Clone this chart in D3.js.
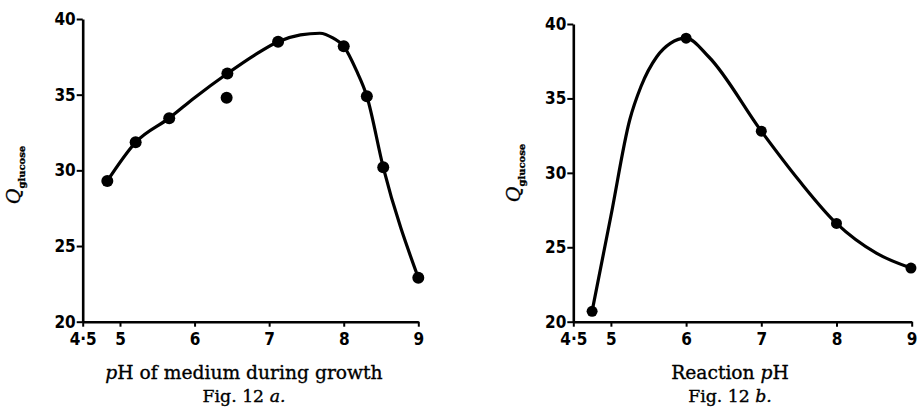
<!DOCTYPE html>
<html>
<head>
<meta charset="utf-8">
<script src="https://cdn.jsdelivr.net/npm/d3@7"></script>
<style>
  body { margin: 0; background: #fff; }
  .tick text { font-family: "DejaVu Sans Condensed", "DejaVu Sans", sans-serif; font-weight: bold; }
  .title { font-family: "DejaVu Serif", serif; stroke: #000; stroke-width: 0.35; }
</style>
</head>
<body>
<div id="chart"></div>
<script>
// tick labels shared by both panels
var xTicks = [4.5, 5, 6, 7, 8, 9];
var yTicks = [20, 25, 30, 35, 40];

// Fig. 12a - pH of medium during growth
var phGrowth = [4.83, 5.21, 5.66, 6.44, 6.43, 7.12, 8.0, 8.31, 8.53, 9.0];
var qGrowth  = [29.3, 31.85, 33.45, 36.4, 34.8, 38.5, 38.2, 34.9, 30.2, 22.9];
// hand drawn curve through the points (knots)
var curveGrowthPh = [4.83, 5.21, 5.66, 6.0, 6.44, 6.8, 7.12, 7.42, 7.68, 7.86, 8.0, 8.17, 8.31, 8.53, 9.0];
var curveGrowthQ  = [29.3, 31.85, 33.45, 34.8, 36.4, 37.6, 38.5, 38.95, 39.06, 38.73, 38.2, 36.6, 34.9, 30.2, 22.9];

// Fig. 12b - reaction pH
var phReaction = [4.75, 6.0, 7.0, 8.0, 8.99];
var qReaction  = [20.7, 39.05, 32.8, 26.6, 23.6];
var curveReactionPh = [4.75, 5.0, 5.25, 5.4, 5.61, 5.79, 6.0, 6.3, 7.0, 7.5, 8.0, 8.53, 8.99];
var curveReactionQ  = [20.7, 27.1, 33.55, 35.8, 37.8, 38.7, 39.05, 37.8, 32.8, 29.5, 26.6, 24.6, 23.6];

var svg = d3.select("#chart")
  .append("svg")
    .attr("width", 918)
    .attr("height", 408);

function zip(a, b) {
  return a.map(function(d, i) { return [d, b[i]]; });
}

function panel(opts) {
  var x = d3.scaleLinear().domain([4.5, 9]).range([opts.left, opts.right]);
  var y = d3.scaleLinear().domain([20, 40]).range([opts.bottom, opts.top]);

  // X axis
  var gx = svg.append("g")
    .attr("transform", "translate(0," + opts.bottom + ")")
    .call(d3.axisBottom(x)
      .tickValues(xTicks)
      .tickSize(5)
      .tickPadding(6)
      .tickSizeOuter(0)
      .tickFormat(function(d) { return d === 4.5 ? "4\u00b75" : d; }));
  gx.select(".domain").attr("stroke-width", 2.6);
  gx.selectAll(".tick line").attr("stroke-width", 2);
  gx.selectAll("text").attr("font-size", 17).attr("fill", "#000");

  // Y axis
  var gy = svg.append("g")
    .attr("transform", "translate(" + opts.left + ",0)")
    .call(d3.axisLeft(y)
      .tickValues(yTicks)
      .tickSize(6)
      .tickPadding(1)
      .tickSizeOuter(0));
  gy.select(".domain").attr("stroke-width", 2.6);
  gy.selectAll(".tick line").attr("stroke-width", 2);
  gy.selectAll("text").attr("font-size", 17).attr("fill", "#000");

  // the curve
  svg.append("path")
    .datum(zip(opts.curvePh, opts.curveQ))
    .attr("fill", "none")
    .attr("stroke", "#000")
    .attr("stroke-width", 3.2)
    .attr("stroke-linejoin", "round")
    .attr("d", d3.line()
      .x(function(d) { return x(d[0]); })
      .y(function(d) { return y(d[1]); })
      .curve(d3.curveMonotoneX));

  // the points
  svg.selectAll(null)
    .data(zip(opts.ph, opts.q))
    .enter()
    .append("circle")
      .attr("cx", function(d) { return x(d[0]); })
      .attr("cy", function(d) { return y(d[1]); })
      .attr("r", opts.r)
      .attr("fill", "#000");

  // y label: Q glucose
  var ql = svg.append("text")
    .attr("class", "title")
    .attr("transform", "translate(" + opts.qx + "," + opts.qy + ")rotate(-90)")
    .attr("text-anchor", "middle")
    .attr("fill", "#000");
  ql.append("tspan").attr("font-style", "italic").attr("font-size", 19).text("Q");
  ql.append("tspan").attr("font-size", 10).attr("font-weight", "bold").attr("dy", 5).text("glucose");

  // x label and caption
  var xl = svg.append("text")
    .attr("class", "title")
    .attr("x", opts.labelX)
    .attr("y", 379)
    .attr("text-anchor", "middle")
    .attr("font-size", 18.7)
    .attr("fill", "#000");
  opts.xLabel.forEach(function(p) {
    xl.append("tspan").attr("font-style", p[1] ? "italic" : "normal").text(p[0]);
  });

  var cap = svg.append("text")
    .attr("class", "title")
    .attr("x", opts.labelX)
    .attr("y", 402)
    .attr("text-anchor", "middle")
    .attr("font-size", 17.3)
    .attr("fill", "#000");
  cap.append("tspan").text("Fig. 12 ");
  cap.append("tspan").attr("font-style", "italic").text(opts.fig + ".");
}

panel({
  left: 82.7, right: 418.3, top: 19, bottom: 321.7,
  ph: phGrowth, q: qGrowth,
  curvePh: curveGrowthPh, curveQ: curveGrowthQ,
  r: 6, qx: 20, qy: 175, labelX: 244,
  xLabel: [["p", true], ["H of medium during growth", false]],
  fig: "a"
});

panel({
  left: 573.3, right: 911.7, top: 24, bottom: 321.7,
  ph: phReaction, q: qReaction,
  curvePh: curveReactionPh, curveQ: curveReactionQ,
  r: 5.5, qx: 520, qy: 173, labelX: 730,
  xLabel: [["Reaction ", false], ["p", true], ["H", false]],
  fig: "b"
});
</script>
</body>
</html>
